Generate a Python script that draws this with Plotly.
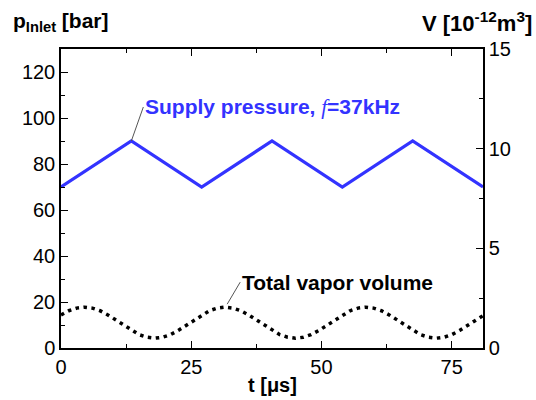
import plotly.graph_objects as go

# Supply pressure (triangle wave), read at corners
t_p = [0, 13.5, 27, 40.5, 54, 67.5, 81]
p_inlet = [70, 90, 70, 90, 70, 90, 70]

# Total vapor volume [1e-12 m^3], read every 1.5 us
t_v = [0, 1.5, 3, 4.5, 6, 7.5, 9, 10.5, 12, 13.5, 15, 16.5, 18, 19.5, 21, 22.5, 24, 25.5,
       27, 28.5, 30, 31.5, 33, 34.5, 36, 37.5, 39, 40.5, 42, 43.5, 45, 46.5, 48, 49.5, 51, 52.5,
       54, 55.5, 57, 58.5, 60, 61.5, 63, 64.5, 66, 67.5, 69, 70.5, 72, 73.5, 75, 76.5, 78, 79.5, 81]
vol = [1.66, 1.87, 2.00, 2.05, 2.00, 1.87, 1.66, 1.41, 1.13, 0.88, 0.67, 0.54, 0.49, 0.54, 0.67, 0.88, 1.13, 1.41,
       1.66, 1.87, 2.00, 2.05, 2.00, 1.87, 1.66, 1.41, 1.13, 0.88, 0.67, 0.54, 0.49, 0.54, 0.67, 0.88, 1.13, 1.41,
       1.66, 1.87, 2.00, 2.05, 2.00, 1.87, 1.66, 1.41, 1.13, 0.88, 0.67, 0.54, 0.49, 0.54, 0.67, 0.88, 1.13, 1.41, 1.62]

x_ticks = [0, 25, 50, 75]
y_ticks = [0, 20, 40, 60, 80, 100, 120]
y2_ticks = [0, 5, 10, 15]

BLUE = "rgb(51,51,255)"
FONT = "Liberation Sans, Arial, sans-serif"

fig = go.Figure()
fig.add_trace(go.Scatter(x=t_p, y=p_inlet, mode="lines",
                         line=dict(color=BLUE, width=3.2), showlegend=False))
fig.add_trace(go.Scatter(x=t_v, y=vol, mode="lines", yaxis="y2",
                         line=dict(color="black", width=3.5, dash="3.5px,4.5px"), showlegend=False))

axis_common = dict(showgrid=False, zeroline=False, showline=True, linecolor="black", linewidth=1.5,
                   ticks="inside", ticklen=7, tickwidth=1.2, tickcolor="black", automargin=False,
                   tickfont=dict(family=FONT, size=20, color="black"))

fig.update_layout(
    width=536, height=400,
    margin=dict(l=61, r=53, t=49, b=52),
    paper_bgcolor="white", plot_bgcolor="white",
    font=dict(family=FONT, color="black"),
    xaxis=dict(range=[0, 81], tickvals=x_ticks, mirror="ticks",
               minor=dict(dtick=12.5, ticks="inside", ticklen=4, tickcolor="black", tickwidth=1.2),
               **axis_common),
    yaxis=dict(range=[0, 130], tickvals=y_ticks,
               minor=dict(dtick=10, ticks="inside", ticklen=4, tickcolor="black", tickwidth=1.2),
               **axis_common),
    yaxis2=dict(range=[0, 15], tickvals=y2_ticks, overlaying="y", side="right",
                minor=dict(dtick=2.5, ticks="inside", ticklen=4, tickcolor="black", tickwidth=1.2),
                **axis_common),
)

pw = 536 - 61 - 53
ph = 400 - 49 - 52
bottom_px = 400 - 52

fig.update_layout(annotations=[
    dict(x=(11 - 61) / pw, y=(bottom_px - 22) / ph, xref="paper", yref="paper",
         text="<b>p<sub>Inlet</sub> [bar]</b>",
         showarrow=False, xanchor="left", yanchor="middle",
         font=dict(family=FONT, size=21, color="black")),
    dict(x=(534 - 61) / pw, y=(bottom_px - 22) / ph, xref="paper", yref="paper",
         text="<b>V [10<sup>-12</sup>m<sup>3</sup>]</b>",
         showarrow=False, xanchor="right", yanchor="middle",
         font=dict(family=FONT, size=22, color="black")),
    dict(x=0.5, y=(bottom_px - 385) / ph, xref="paper", yref="paper",
         text="<b>t [μs]</b>",
         showarrow=False, xanchor="center", yanchor="middle",
         font=dict(family=FONT, size=20, color="black")),
    dict(x=t_p[1], y=p_inlet[1], xref="x", yref="y",
         text="<b>Supply pressure, </b><span style=\"font-family:Liberation Serif\"><i>f</i></span><b>=37kHz</b>",
         showarrow=True, arrowhead=0, arrowwidth=1, arrowcolor="#555555",
         ax=12, ay=-34, xanchor="left", yanchor="middle",
         font=dict(family=FONT, size=21, color=BLUE)),
    dict(x=31.9, y=2.2, xref="x", yref="y2", text="<b>Total vapor volume</b>",
         showarrow=True, arrowhead=0, arrowwidth=1, arrowcolor="#555555",
         ax=13, ay=-22, xanchor="left", yanchor="middle",
         font=dict(family=FONT, size=21, color="black")),
])

fig.write_html("out.html")
